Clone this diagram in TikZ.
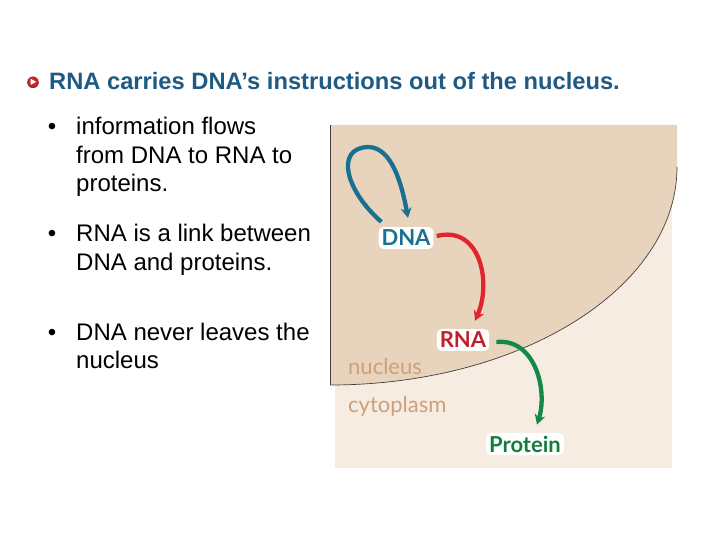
\documentclass[tikz,border=0pt]{standalone}
\usepackage{fontspec}
\setmainfont{Liberation Sans}
\newfontfamily\lato{Lato}
\usetikzlibrary{arrows.meta,calc}
\definecolor{titleblue}{HTML}{1F5A85}
\definecolor{nucdark}{HTML}{E8D4BD}
\definecolor{cytolight}{HTML}{F6ECE1}
\definecolor{celltext}{HTML}{CBA07A}
\definecolor{dnablue}{HTML}{1A7091}
\definecolor{rnared}{HTML}{E2242C}
\definecolor{rnatext}{HTML}{C21E2B}
\definecolor{protgreen}{HTML}{128A46}
\definecolor{prottext}{HTML}{157C40}
\definecolor{iconred}{HTML}{C9282E}
\tikzset{
  bodytext/.style={anchor=base west, inner sep=0pt, font=\fontsize{24}{28.6}\selectfont},
  bulletmark/.style={anchor=base, inner sep=0pt, font=\fontsize{24}{28.6}\selectfont},
  molecule/.style={fill=white, rounded corners=5pt, inner sep=3pt, font=\lato\bfseries\fontsize{22}{22}\selectfont},
  region/.style={anchor=base west, inner sep=0pt, text=celltext, font=\lato\fontsize{22}{22}\selectfont},
  flow/.style={line width=4.3pt, -{Stealth[length=10pt,width=11pt]}}
}
\begin{document}
\begin{tikzpicture}[x=1pt,y=-1pt]
\useasboundingbox (0,0) rectangle (720,540);
\fill[white] (0,0) rectangle (720,540);

% title
\fill[iconred!80!black] (33,82.3) circle (5.8);
\fill[iconred] (33,81.7) circle (5);
\fill[white] (30.6,78.8) -- (36.2,81.8) -- (30.6,84.8) -- cycle;
\node[anchor=base west, inner sep=0pt, text=titleblue, font=\bfseries\fontsize{23.7}{28}\selectfont] (title) at (49,90) {RNA carries DNA’s instructions out of the nucleus.};

% bullets
\node[bulletmark] (b1) at (52,135) {•};
\node[bodytext] (t1a) at (76,135) {information flows};
\node[bodytext] (t1b) at (76,163.5) {from DNA to RNA to};
\node[bodytext] (t1c) at (76,192) {proteins.};
\node[bulletmark] (b2) at (52,241.7) {•};
\node[bodytext] (t2a) at (76,241.7) {RNA is a link between};
\node[bodytext] (t2b) at (76,270.3) {DNA and proteins.};
\node[bulletmark] (b3) at (52,340) {•};
\node[bodytext] (t3a) at (76,340) {DNA never leaves the};
\node[bodytext] (t3b) at (76,368.6) {nucleus};

% cell regions
\fill[cytolight] (335,125) rectangle (672,468);
\fill[nucdark] (330,125) -- (677,125) -- (677,167)
  .. controls (677,287.4) and (521.6,385) .. (330,385) -- cycle;
\draw[black!75, line width=0.7pt] (330,125) -- (330,385);
\draw[black!75, line width=0.7pt] (677,167) .. controls (677,287.4) and (521.6,385) .. (330,385);

\node[region] (nuc) at (348,374) {nucleus};
\node[region] (cyto) at (348,412) {cytoplasm};

% molecules
\node[molecule, text=dnablue] (dna) at (406,238) {DNA};
\node[molecule, text=rnatext] (rna) at (463,340) {RNA};
\node[molecule, text=prottext] (protein) at (525,444) {Protein};

\coordinate (looptop) at (368,147);
\draw[flow, dnablue] ($(dna.north west)+(3,-5)$) .. controls (345,190) and (335,148) .. (looptop)
  .. controls (392,147) and (402,185) .. ($(dna.north)+(2,-9)$);
\draw[flow, rnared] ($(dna.east)+(3,-2)$) .. controls (480,225) and (492,282) .. ($(rna.north)+(12,-8)$);
\draw[flow, protgreen] ($(rna.east)+(7,2)$) .. controls (535,338) and (548,390) .. ($(protein.north)+(12,-8)$);
\end{tikzpicture}
\end{document}
